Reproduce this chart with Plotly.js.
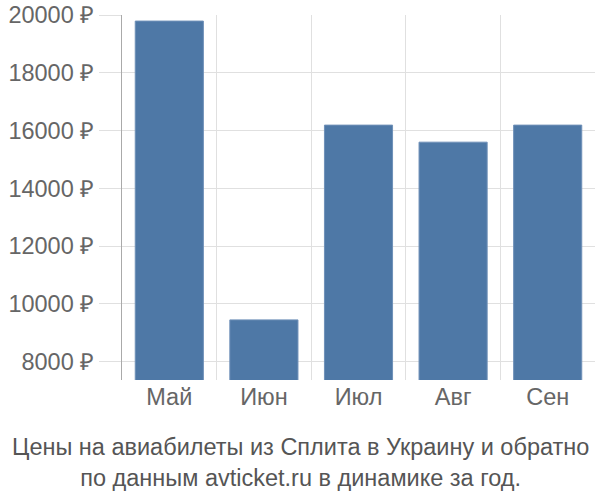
<!DOCTYPE html>
<html>
<head>
<meta charset="utf-8">
<script src="https://cdn.plot.ly/plotly-3.1.0.min.js"></script>
<style>
  html, body { margin: 0; padding: 0; background: #fff; }
  #chart { width: 600px; height: 500px; }
</style>
</head>
<body>
<div id="chart"></div>
<script>
// monthly prices, rubles
const months = ["Май", "Июн", "Июл", "Авг", "Сен"];
const prices = [19790, 9450, 16190, 15600, 16190];
const yTicks = [8000, 10000, 12000, 14000, 16000, 18000, 20000];
const yTickLabels = yTicks.map(v => v + " ₽");

const chartTitle = "Цены на авиабилеты из Сплита в Украину и обратно<br>по данным avticket.ru в динамике за год.";

const trace = {
    type: "bar",
    x: months,
    y: prices,
    width: 0.72,
    marker: { color: "#4e78a6", line: { width: 1, color: "#6f90b8" } },
    hoverinfo: "x+y"
};

const layout = {
    width: 600,
    height: 500,
    margin: { l: 122, r: 5, t: 15, b: 120 },
    paper_bgcolor: "#fff",
    plot_bgcolor: "#fff",
    font: { family: "Liberation Sans, Arial, sans-serif", size: 23.5, color: "#666" },
    showlegend: false,
    xaxis: {
        type: "category",
        tickson: "boundaries",
        showgrid: true,
        gridcolor: "#e0e0e0",
        gridwidth: 1,
        ticks: "",
        showline: false,
        zeroline: false,
        range: [-0.5, 4.5],
        tickfont: { size: 23.5, color: "#666" }
    },
    yaxis: {
        range: [7370, 20000],
        tickmode: "array",
        tickvals: yTicks,
        ticktext: yTickLabels,
        ticks: "outside",
        ticklen: 22,
        tickcolor: "#e0e0e0",
        showgrid: true,
        gridcolor: "#e0e0e0",
        showline: true,
        linecolor: "#aaa",
        linewidth: 1,
        zeroline: false,
        tickfont: { size: 23.5, color: "#666" }
    },
    annotations: [{
        text: chartTitle,
        xref: "paper", yref: "paper",
        x: (300 - 122) / 473, y: 0,
        xanchor: "center", yanchor: "top",
        yshift: -52,
        showarrow: false,
        align: "center",
        font: { size: 23.5, color: "#555" }
    }]
};

Plotly.newPlot("chart", [trace], layout, { displayModeBar: false, staticPlot: true });
</script>
</body>
</html>
